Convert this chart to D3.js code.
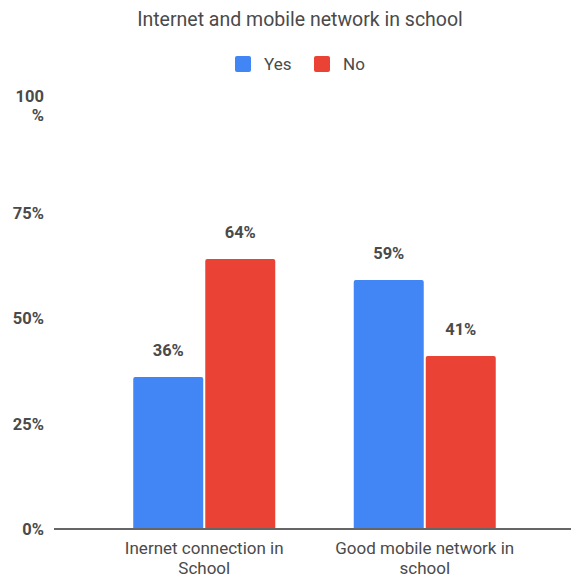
<!DOCTYPE html>
<html>
<head>
<meta charset="utf-8">
<script src="https://cdn.jsdelivr.net/npm/d3@7"></script>
<style>
  html, body { margin: 0; padding: 0; background: #fff; }
  svg { display: block; font-family: Roboto, "Noto Sans", sans-serif; }
</style>
</head>
<body>
<svg id="chart" width="571" height="577"></svg>
<script>
// Survey answers: share of respondents per question
const categories = [["Inernet connection in", "School"], ["Good mobile network in", "school"]];
const seriesNames = ["Yes", "No"];
const yesValues = [36, 59];
const noValues = [64, 41];
const yTicks = [0, 25, 50, 75, 100];
const colors = ["#4285F4", "#EA4335"];

const series = [yesValues, noValues];
const rows = categories.map((c, i) => ({
  key: c.join(" "),
  lines: c,
  values: seriesNames.map((s, j) => ({ name: s, value: series[j][i], color: colors[j] }))
}));

const svg = d3.select("#chart");

const y = d3.scaleLinear().domain([0, 100]).range([529, 107]);
const x0 = d3.scaleBand().domain(rows.map(r => r.key)).range([94, 535])
  .paddingInner(0.356).paddingOuter(0.178);
const x1 = d3.scaleBand().domain(seriesNames).range([0, x0.bandwidth()]).paddingInner(0.028);

// Title
svg.append("text")
  .attr("x", 300).attr("y", 26)
  .attr("text-anchor", "middle")
  .attr("font-size", 19.5).attr("fill", "#4a4a4a")
  .text("Internet and mobile network in school");

// Legend
const legendPos = [235, 314];
const legend = svg.append("g");
seriesNames.forEach((s, i) => {
  legend.append("rect")
    .attr("x", legendPos[i]).attr("y", 56)
    .attr("width", 16).attr("height", 16).attr("rx", 2)
    .attr("fill", colors[i]);
  legend.append("text")
    .attr("x", legendPos[i] + 29).attr("y", 70)
    .attr("font-size", 17).attr("fill", "#4a4a4a")
    .text(s);
});

// Y axis labels (no tick lines); the top label wraps onto two lines
const yAxis = svg.append("g");
yTicks.forEach(t => {
  const g = yAxis.append("text")
    .attr("text-anchor", "end")
    .attr("font-size", 16.5).attr("font-weight", "bold").attr("fill", "#4a4a4a");
  if (t === 100) {
    g.append("tspan").attr("x", 44).attr("y", y(t) - 5).text("100");
    g.append("tspan").attr("x", 44).attr("y", y(t) + 14).text("%");
  } else {
    g.attr("x", 44).attr("y", y(t) + 6).text(t + "%");
  }
});

// Bars with slightly rounded top corners
function barPath(x, top, w, bottom, r) {
  return `M${x},${bottom}V${top + r}Q${x},${top} ${x + r},${top}H${x + w - r}Q${x + w},${top} ${x + w},${top + r}V${bottom}Z`;
}

const groups = svg.append("g").selectAll("g")
  .data(rows).join("g")
  .attr("transform", d => `translate(${x0(d.key)},0)`);

groups.selectAll("path")
  .data(d => d.values).join("path")
  .attr("d", d => barPath(x1(d.name), y(d.value), x1.bandwidth(), y(0), 2))
  .attr("fill", d => d.color);

groups.selectAll("text.val")
  .data(d => d.values).join("text")
  .attr("class", "val")
  .attr("x", d => x1(d.name) + x1.bandwidth() / 2)
  .attr("y", d => y(d.value) - 21)
  .attr("text-anchor", "middle")
  .attr("font-size", 16.5).attr("font-weight", "bold").attr("fill", "#4a4a4a")
  .text(d => d.value + "%");

// Baseline
svg.append("line")
  .attr("x1", 54).attr("x2", 571)
  .attr("y1", y(0)).attr("y2", y(0))
  .attr("stroke", "#666").attr("stroke-width", 2);

// Category labels, two lines each
const catLabels = svg.append("g").selectAll("text")
  .data(rows).join("text")
  .attr("text-anchor", "middle")
  .attr("font-size", 17).attr("fill", "#4a4a4a");
catLabels.each(function (d) {
  const cx = x0(d.key) + x0.bandwidth() / 2;
  d3.select(this).selectAll("tspan")
    .data(d.lines).join("tspan")
    .attr("x", cx)
    .attr("y", (l, i) => 554 + i * 19.5)
    .text(l => l);
});
</script>
</body>
</html>
